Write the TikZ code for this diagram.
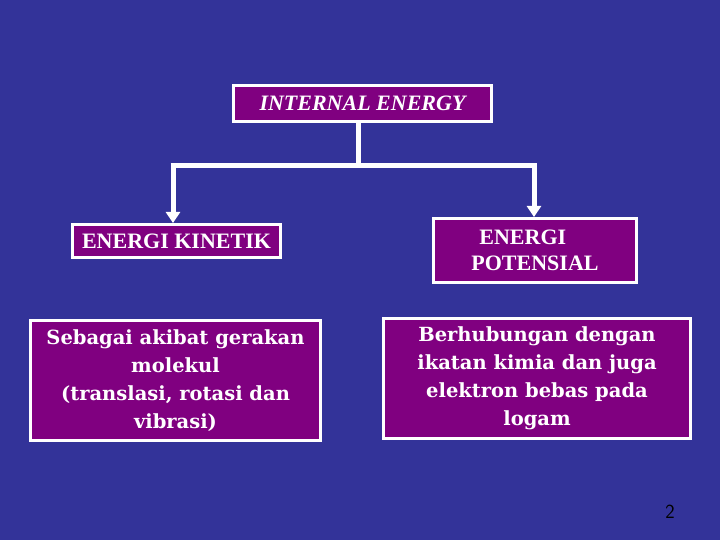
\documentclass[tikz,border=0pt]{standalone}
\usepackage{fontspec}
\setmainfont{Liberation Serif}
\newfontfamily\bodyfont{DejaVu Serif}
\usetikzlibrary{arrows.meta}
\definecolor{bg}{HTML}{333399}
\definecolor{purp}{HTML}{800080}
\begin{document}
\begin{tikzpicture}[x=1pt,y=-1pt,
  box/.style={draw=white,line width=3pt,fill=purp,text=white,inner sep=0pt,anchor=north west},
  conn/.style={draw=white,line width=5pt},
  arr/.style={conn,-{Triangle[width=14pt,length=11pt]}}]
\fill[bg] (0,0) rectangle (720,540);
\useasboundingbox (0,0) rectangle (720,540);
\node[box,minimum width=258pt,minimum height=36pt,font=\fontsize{22}{24}\selectfont\bfseries\itshape] (top) at (232,84) {INTERNAL ENERGY};
\node[box,minimum width=208pt,minimum height=33pt,font=\fontsize{22}{24}\selectfont\bfseries] (kin) at (71,223) {ENERGI KINETIK};
\node[box,minimum width=203pt,minimum height=64pt,align=left,font=\fontsize{22}{26}\selectfont\bfseries] (pot) at (432,217) {\hspace*{8pt}ENERGI\\ POTENSIAL};
\node[box,minimum width=290pt,minimum height=120pt,align=center,font=\bodyfont\fontsize{19.5}{28}\selectfont\bfseries] (kd) at (29,319) {Sebagai akibat gerakan\\molekul\\(translasi, rotasi dan\\vibrasi)};
\node[box,minimum width=307pt,minimum height=120pt,align=center,font=\bodyfont\fontsize{19.5}{28}\selectfont\bfseries] (pd) at (382,317) {Berhubungan dengan\\ikatan kimia dan juga\\elektron bebas pada\\logam};
\coordinate (j) at (358,166);
\coordinate (jl) at (173,166);
\coordinate (jr) at (534,166);
\draw[conn] (top.south -| j) -- (j);
\draw[conn] ([xshift=-2.5pt]jl) -- ([xshift=2.5pt]jr);
\draw[arr] (jl) -- (jl |- kin.north);
\draw[arr] (jr) -- (jr |- pot.north);
\node[font=\fontsize{20}{22}\selectfont\sffamily,text=black] (pg) at (670,512) {2};
\end{tikzpicture}
\end{document}
